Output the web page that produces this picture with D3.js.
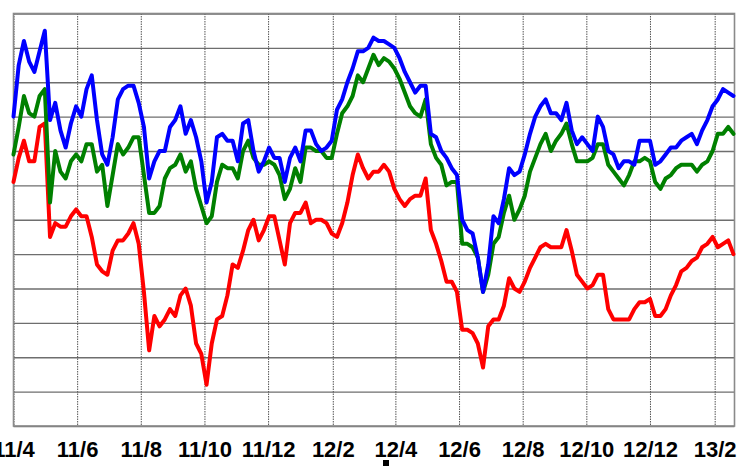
<!DOCTYPE html>
<html><head><meta charset="utf-8">
<script src="https://cdn.jsdelivr.net/npm/d3@7"></script>
<style>
html,body{margin:0;padding:0;background:#fff;}
svg{display:block;}
</style></head>
<body>
<svg id="chart" width="738" height="466"></svg>
<script>
// x categories: one sample every 5 days starting 2011-04-01
const startDate = "2011-04-01";
const endDate = "2013-02-20";
const stepDays = 5;
const tickMonths = ["2011-04-01","2011-06-01","2011-08-01","2011-10-01","2011-12-01","2012-02-01","2012-04-01","2012-06-01","2012-08-01","2012-10-01","2012-12-01","2013-02-01"];
const yTicks = [0,10,20,30,40,50,60,70,80,90,100,110,120];

const blue = [90,105,112,106,103,109,115,89,94,86,81,88,93,90,98,102,89,79,76,84,95,98,99,99,94,87,72,77,80,80,87,89,93,85,89,84,
77,65,71,84,85,83,83,77,88,89,80,74,77,81,78,78,71,78,81,77,86,86,82,80,81,83,92,95,100,104,109,109,110,113,112,
112,111,110,107,103,100,97,99,99,85,84,80,78,75,73,60,57,56,49,39,47,61,59,66,75,73,74,79,85,90,93,95,91,91,
89,94,86,82,84,82,80,90,87,80,79,75,77,77,76,83,83,83,76,77,79,81,81,83,84,85,82,86,89,93,95,98,97,96];

const green = [79,87,96,91,90,96,98,65,80,74,72,77,79,77,82,82,74,76,64,73,82,79,81,84,84,73,62,62,64,72,75,76,79,74,77,69,
64,59,61,71,76,75,75,72,80,83,78,76,76,77,76,73,66,69,75,71,81,81,80,80,78,78,85,91,93,96,102,100,104,108,105,
107,106,104,101,97,93,91,90,95,82,78,76,70,71,71,53,53,52,49,39,44,53,55,62,67,60,63,67,74,78,82,85,80,83,
85,88,82,77,77,77,78,82,82,76,74,72,70,73,77,77,78,77,71,69,72,73,75,76,76,76,74,76,77,80,85,85,87,85];

const red = [71,78,83,77,77,87,88,55,59,58,58,61,63,61,61,55,47,45,44,51,54,54,56,59,53,39,22,32,29,31,34,32,38,40,35,24,
21,12,24,31,32,38,47,46,51,57,60,54,57,61,61,54,47,59,62,62,65,59,60,60,59,56,55,59,65,73,79,75,72,74,74,
76,74,69,66,64,66,67,67,72,57,53,48,42,42,39,28,28,27,24,17,29,31,31,35,43,40,39,42,46,49,52,53,52,52,
52,57,51,44,42,40,41,44,44,34,31,31,31,31,34,36,36,37,32,32,34,38,41,45,46,48,49,52,53,55,52,53,54,50];

const seriesList = [
  {name:"red", values: red, color:"#ff0000"},
  {name:"green", values: green, color:"#008000"},
  {name:"blue", values: blue, color:"#0000ff"}
];

const parse = d3.utcParse("%Y-%m-%d");
const t0 = parse(startDate);
const dates = blue.map((_, i) => d3.utcDay.offset(t0, i * stepDays));

const svg = d3.select("#chart");
const mL = 13.5, mR = 734.5, mT = 13.5, mB = 426;

const x = d3.scaleUtc().domain([t0, parse(endDate)]).range([mL, mR]);
const y = d3.scaleLinear().domain([0, 120]).range([mB, mT]);

// horizontal grid
svg.append("g")
  .attr("transform", `translate(${mL},0)`)
  .call(d3.axisLeft(y).tickValues(yTicks).tickSize(-(mR - mL)).tickFormat(""))
  .call(g => g.select(".domain").remove())
  .call(g => g.selectAll(".tick line").attr("stroke", "#6e6e6e").attr("stroke-width", 1.3));

// vertical grid (dotted)
const tickDates = tickMonths.map(parse);
svg.append("g")
  .attr("transform", `translate(0,${mT})`)
  .call(d3.axisBottom(x).tickValues(tickDates).tickSize(mB - mT).tickFormat(""))
  .call(g => g.select(".domain").remove())
  .call(g => g.selectAll(".tick line").attr("stroke", "#555").attr("stroke-width", 1).attr("stroke-dasharray", "1.5,1"));

// border
svg.append("rect")
  .attr("x", mL).attr("y", mT)
  .attr("width", mR - mL).attr("height", mB - mT)
  .attr("fill", "none").attr("stroke", "#8a8a8a").attr("stroke-width", 1.6);

// lines
const line = d3.line()
  .x((d, i) => x(dates[i]))
  .y(d => y(d));

svg.append("g").selectAll("path")
  .data(seriesList)
  .join("path")
  .attr("d", s => line(s.values))
  .attr("fill", "none")
  .attr("stroke", s => s.color)
  .attr("stroke-width", 4)
  .attr("stroke-linejoin", "round")
  .attr("stroke-linecap", "round");

// x labels
const fmt = d3.utcFormat("%y/%-m");
svg.append("g")
  .attr("transform", `translate(0,${mB})`)
  .call(d3.axisBottom(x).tickValues(tickDates).tickSize(0).tickPadding(15.5).tickFormat(fmt))
  .call(g => g.select(".domain").remove())
  .call(g => g.selectAll("text")
     .attr("fill", "#000")
     .attr("font-family", "'Liberation Sans',Arial,sans-serif")
     .attr("font-weight", "bold")
     .attr("font-size", 22)
     .attr("dy", "0.71em"));

// small marker below axis
svg.append("rect").attr("x", 383).attr("y", 460).attr("width", 6).attr("height", 6).attr("fill", "#000");
</script>
</body></html>
